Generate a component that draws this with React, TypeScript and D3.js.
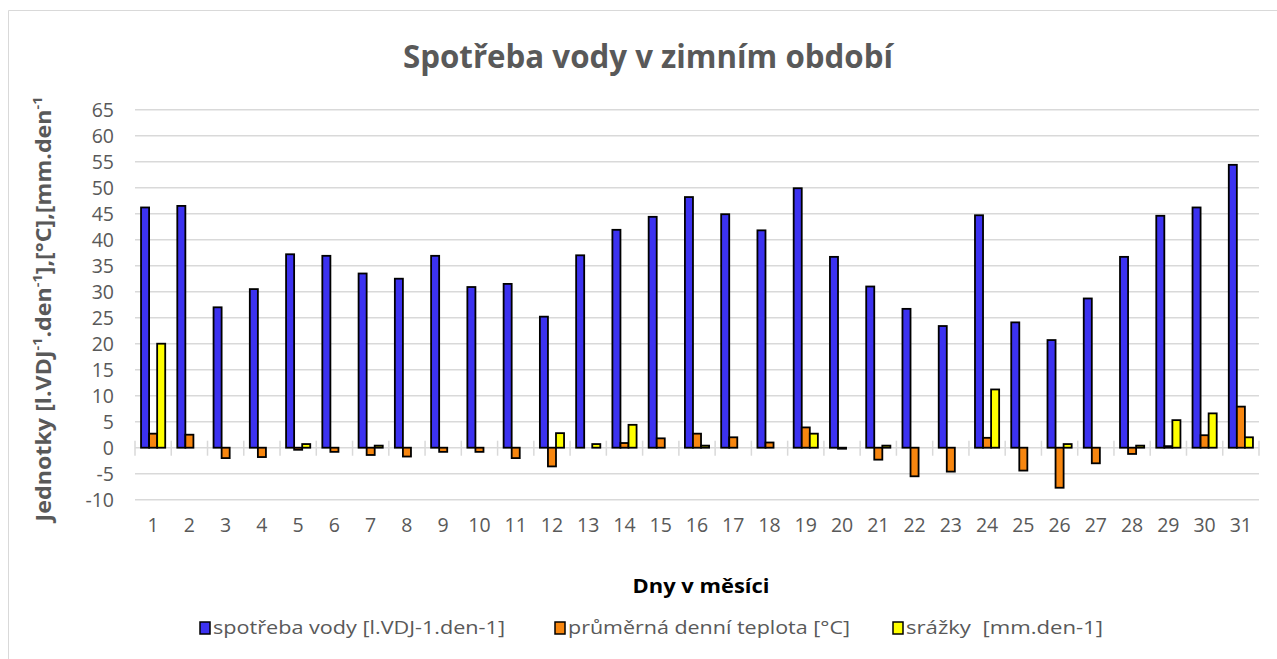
import React, { useEffect, useRef } from 'react'
import * as d3 from 'd3'

const days = ['1', '2', '3', '4', '5', '6', '7', '8', '9', '10', '11', '12', '13', '14', '15', '16',
  '17', '18', '19', '20', '21', '22', '23', '24', '25', '26', '27', '28', '29', '30', '31']
const water = [46.2, 46.5, 27.0, 30.5, 37.2, 36.9, 33.5, 32.5, 36.9, 30.9, 31.5, 25.2, 37.0, 41.9, 44.4, 48.2,
  44.9, 41.8, 49.9, 36.7, 31.0, 26.7, 23.4, 44.7, 24.1, 20.7, 28.7, 36.7, 44.6, 46.2, 54.4]
const temp = [2.7, 2.5, -2.0, -1.8, -0.4, -0.8, -1.4, -1.7, -0.8, -0.8, -2.0, -3.6, 0, 0.9, 1.8, 2.7,
  2.0, 1.0, 3.9, -0.2, -2.3, -5.5, -4.6, 1.9, -4.4, -7.7, -3.0, -1.2, 0.3, 2.4, 7.9]
const rain = [20.0, 0, 0, 0, 0.7, 0, 0.4, 0, 0, 0, 0, 2.8, 0.7, 4.4, 0, 0.4,
  0, 0, 2.7, 0, 0.4, 0, 0, 11.2, 0, 0.7, 0, 0.4, 5.3, 6.6, 2.0]
const seriesNames = ['spotřeba vody [l.VDJ-1.den-1]', 'průměrná denní teplota [°C]', 'srážky  [mm.den-1]']
const seriesColors = ['#3c32f0', '#f7860f', '#ffff00']
const yTicks = [-10, -5, 0, 5, 10, 15, 20, 25, 30, 35, 40, 45, 50, 55, 60, 65]

const W = 1277
const H = 659
const font = '"Open Sans", "Noto Sans", sans-serif'
const grey = '#595959'

export default function App() {
  const ref = useRef<SVGSVGElement>(null)

  useEffect(() => {
    const svg = d3.select(ref.current)
    svg.selectAll('*').remove()

    const left = 135, right = 1259
    const y = d3.scaleLinear().domain([-10, 65]).range([499.7, 109.7])
    const x = d3.scaleBand().domain(days).range([left, right]).paddingInner(1 / 3).paddingOuter(1 / 6)
    const x1 = d3.scaleBand().domain(['0', '1', '2']).range([0, x.bandwidth()])
    const step = x.step()

    // frame
    svg.append('path').attr('d', `M8.5,${H} V10.5 H${W}`).attr('fill', 'none').attr('stroke', '#d9d9d9')

    // title
    svg.append('text').attr('x', 648).attr('y', 68).attr('text-anchor', 'middle')
      .attr('font-family', font).attr('font-weight', 'bold').attr('font-size', 33)
      .attr('fill', grey).attr('textLength', 490).attr('lengthAdjust', 'spacingAndGlyphs')
      .text('Spotřeba vody v zimním období')

    // gridlines
    svg.append('g').selectAll('line').data(yTicks).enter().append('line')
      .attr('x1', left).attr('x2', right)
      .attr('y1', d => y(d)).attr('y2', d => y(d))
      .attr('stroke', '#d9d9d9').attr('stroke-width', 1.5)

    // y tick labels
    svg.append('g').selectAll('text').data(yTicks).enter().append('text')
      .attr('x', 114).attr('y', d => y(d) + 7).attr('text-anchor', 'end')
      .attr('font-family', font).attr('font-size', 19.5).attr('fill', grey)
      .text(d => d)

    // x ticks at band edges
    svg.append('g').selectAll('line').data(d3.range(days.length + 1)).enter().append('line')
      .attr('x1', i => left + i * step).attr('x2', i => left + i * step)
      .attr('y1', y(0) - 7).attr('y2', y(0) + 8)
      .attr('stroke', '#d9d9d9').attr('stroke-width', 1.5)

    // bars
    const all = [water, temp, rain]
    all.forEach((vals, s) => {
      svg.append('g').selectAll('rect')
        .data(vals.map((v, i) => ({ v, d: days[i] })).filter(p => !(s === 2 && p.v === 0)))
        .enter().append('rect')
        .attr('x', p => (x(p.d) as number) + (x1(String(s)) as number))
        .attr('width', x1.bandwidth())
        .attr('y', p => y(Math.max(0, p.v)))
        .attr('height', p => Math.abs(y(p.v) - y(0)))
        .attr('fill', seriesColors[s])
        .attr('stroke', '#000').attr('stroke-width', 1.8)
    })

    // x labels
    svg.append('g').selectAll('text').data(days).enter().append('text')
      .attr('x', d => (x(d) as number) + x.bandwidth() / 2).attr('y', 532)
      .attr('text-anchor', 'middle').attr('font-family', font).attr('font-size', 19.5).attr('fill', grey)
      .text(d => d)

    // axis titles
    svg.append('text').attr('x', 701).attr('y', 593).attr('text-anchor', 'middle')
      .attr('font-family', font).attr('font-weight', 'bold').attr('font-size', 20).attr('fill', '#000')
      .attr('textLength', 137).attr('lengthAdjust', 'spacingAndGlyphs')
      .text('Dny v měsíci')

    const yl = svg.append('text').attr('transform', 'translate(51,309) rotate(-90)')
      .attr('text-anchor', 'middle').attr('font-family', font).attr('font-weight', 'bold')
      .attr('font-size', 21).attr('fill', grey)
      .attr('textLength', 425).attr('lengthAdjust', 'spacingAndGlyphs')
    const parts: [string, boolean][] = [['Jednotky [l.VDJ', false], ['-1', true], ['.den', false], ['-1', true],
      ['],[°C],[mm.den', false], ['-1', true]]
    parts.forEach(([t, sup]) => {
      const ts = yl.append('tspan').text(t)
      if (sup) ts.attr('font-size', 13).attr('baseline-shift', 'super')
    })

    // legend
    const legendX = [200, 555, 893]
    const legendW = [292, 282, 197]
    seriesNames.forEach((n, i) => {
      svg.append('rect').attr('x', legendX[i]).attr('y', 622).attr('width', 10).attr('height', 12)
        .attr('fill', seriesColors[i]).attr('stroke', '#000').attr('stroke-width', 1.5)
      svg.append('text').attr('x', legendX[i] + 13).attr('y', 634)
        .attr('font-family', font).attr('font-size', 18).attr('fill', grey)
        .attr('xml:space', 'preserve').style('white-space', 'pre')
        .attr('textLength', legendW[i]).attr('lengthAdjust', 'spacingAndGlyphs')
        .text(n)
    })
  }, [])

  return (
    <svg ref={ref} width={W} height={H}
      style={{ position: 'absolute', left: 0, top: 0, display: 'block', background: '#fff' }} />
  )
}
